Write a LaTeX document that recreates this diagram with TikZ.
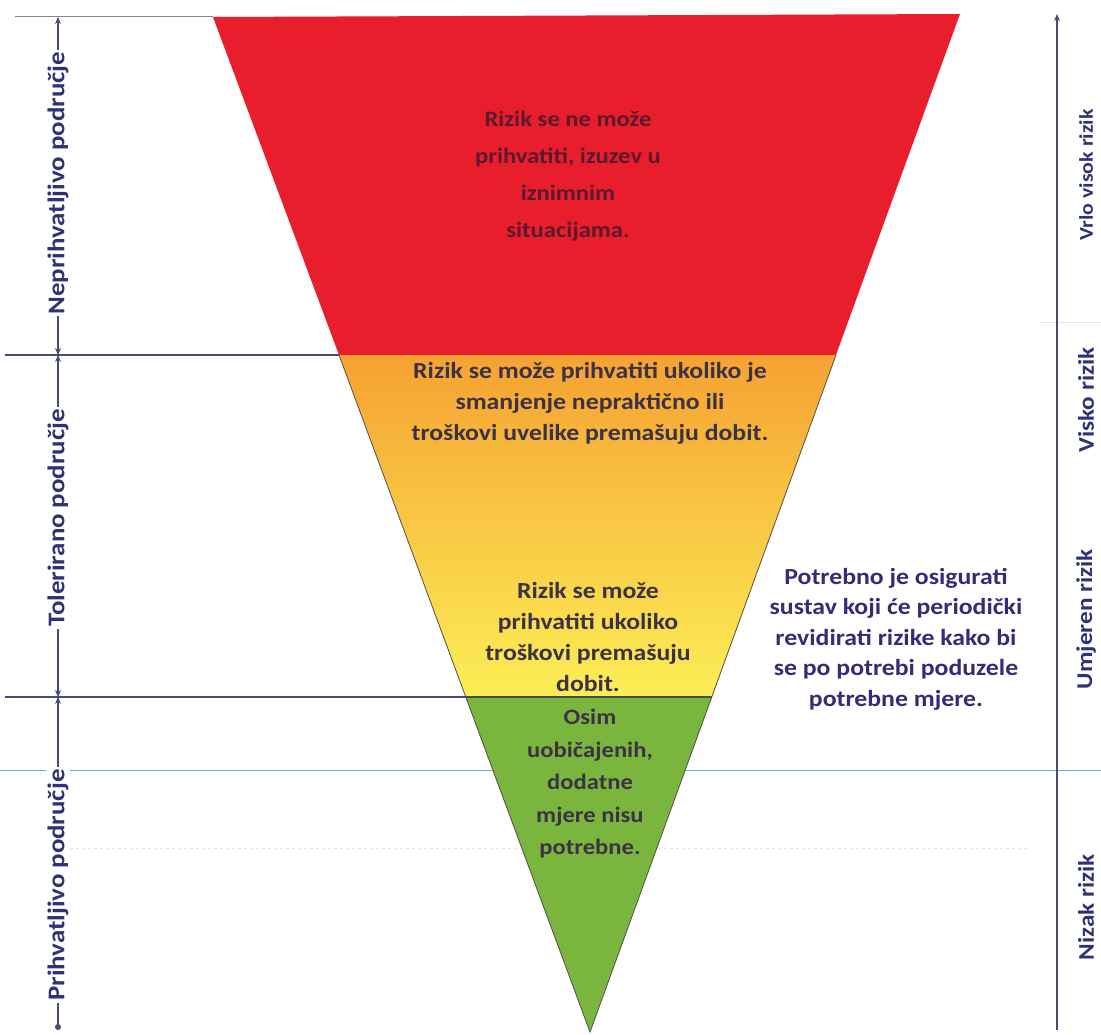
\documentclass[tikz,border=0pt]{standalone}
\usepackage{fontspec}
\setmainfont{Carlito}[FakeStretch=1.12]
\usetikzlibrary{arrows.meta,calc}
\definecolor{rred}{RGB}{232,30,44}
\definecolor{rorange}{RGB}{246,162,50}
\definecolor{rmid}{RGB}{250,198,62}
\definecolor{ryellow}{RGB}{251,238,86}
\definecolor{rgreen}{RGB}{122,182,62}
\definecolor{axiscol}{RGB}{70,76,120}
\definecolor{labcol}{RGB}{48,50,120}
\definecolor{txtdark}{RGB}{60,50,70}
\definecolor{txtred}{RGB}{90,25,45}
\definecolor{notecol}{RGB}{58,40,120}
\definecolor{lblue}{RGB}{110,170,205}
\definecolor{edgecol}{RGB}{80,80,80}
\tikzset{
  axisline/.style={draw=axiscol, line width=1.2pt},
  tip/.style={-{Stealth[length=7pt,width=6pt]}},
  leftlab/.style={rotate=90, fill=white, inner sep=2pt, text=labcol, font=\bfseries\fontsize{24}{27}\selectfont},
  rightlab/.style={rotate=90, inner sep=1pt, text=labcol, font=\bfseries\fontsize{22.5}{25}\selectfont},
  bandtext/.style={align=center, text=txtdark, font=\bfseries\fontsize{23}{30}\selectfont},
  levelline/.style={draw=axiscol, line width=1.1pt},
}
\begin{document}
\begin{tikzpicture}[x=1pt,y=-1pt]
\useasboundingbox (0,0) rectangle (1101,1035);
% triangle geometry
\coordinate (TL) at (213,17);
\coordinate (TR) at (960,14);
\coordinate (A) at (590,1032);
\coordinate (L1) at (339,355);
\coordinate (R1) at (836,355);
\coordinate (L2) at (465.5,697);
\coordinate (R2) at (712,697);
% faint light blue line behind triangle
\draw[lblue, line width=1pt] (0,770) -- (1101,770);
% faint scan lines
\draw[gray!20, line width=0.6pt, dashed] (70,848) -- (1030,848);
\draw[gray!20, line width=0.6pt] (1040,322) -- (1101,322);
% bands
\fill[rred] (TL) -- (TR) -- (R1) -- (L1) -- cycle;
\shade[top color=rorange, middle color=rmid, bottom color=ryellow] (L1) -- (R1) -- (R2) -- (L2) -- cycle;
\fill[rgreen] (L2) -- (R2) -- (A) -- cycle;
\draw[edgecol, line width=0.8pt] (L1) -- (A) -- (R1);
\draw[gray!60!black, line width=1.2pt] (L2) -- (R2);
% level lines on the left
\coordinate (T0) at (15,17);
\coordinate (T1) at (5,355);
\coordinate (T2) at (5,697);
\draw[draw=axiscol!70, line width=1pt] (T0) -- (TL);
\draw[levelline] (T1) -- (L1);
\draw[levelline] (T2) -- (L2);
% left axis
\coordinate (a0) at (58,17);
\coordinate (a1) at (58,355);
\coordinate (a2) at (58,697);
\coordinate (a3) at (58,1030);
\draw[axisline, {Stealth[length=7pt,width=6pt]}-{Stealth[length=7pt,width=6pt]}] (a0) -- (a1);
\draw[axisline, {Stealth[length=7pt,width=6pt]}-{Stealth[length=7pt,width=6pt]}] (a1) -- (a2);
\draw[axisline, {Stealth[length=7pt,width=6pt]}-{Circle[length=6pt]}] (a2) -- (a3);
\node[leftlab] (n1) at (58,183) {Neprihvatljivo područje};
\node[leftlab] (n2) at (58,518) {Tolerirano područje};
\node[leftlab] (n3) at (58,885) {Prihvatljivo područje};
% right axis
\coordinate (b0) at (1057,1030);
\coordinate (b1) at (1057,14);
\draw[axisline, tip] (b0) -- (b1);
\node[rightlab, font=\bfseries\fontsize{19.5}{22}\selectfont] (r1) at (1086,175) {Vrlo visok rizik};
\node[rightlab] (r2) at (1086,400) {Visko rizik};
\node[rightlab] (r3) at (1086,619) {Umjeren rizik};
\node[rightlab] (r4) at (1086,907) {Nizak rizik};
% band texts
\node[align=center, text=txtred, font=\bfseries\fontsize{22}{37}\selectfont] (t1) at (568,176)
  {Rizik se ne može\\prihvatiti, izuzev u\\iznimnim\\situacijama.};
\node[bandtext, font=\bfseries\fontsize{23}{31}\selectfont] (t2) at (590,403)
  {Rizik se može prihvatiti ukoliko je\\smanjenje nepraktično ili\\troškovi uvelike premašuju dobit.};
\node[bandtext, font=\bfseries\fontsize{23}{31}\selectfont] (t3) at (588,637)
  {Rizik se može\\prihvatiti ukoliko\\troškovi premašuju\\dobit.};
\node[bandtext, font=\bfseries\fontsize{22}{32.5}\selectfont] (t4) at (590,784)
  {Osim\\uobičajenih,\\dodatne\\mjere nisu\\potrebne.};
\node[bandtext, text=notecol, font=\bfseries\fontsize{23}{30.5}\selectfont] (t5) at (896,639)
  {Potrebno je osigurati\\sustav koji će periodički\\revidirati rizike kako bi\\se po potrebi poduzele\\potrebne mjere.};
\end{tikzpicture}
\end{document}
